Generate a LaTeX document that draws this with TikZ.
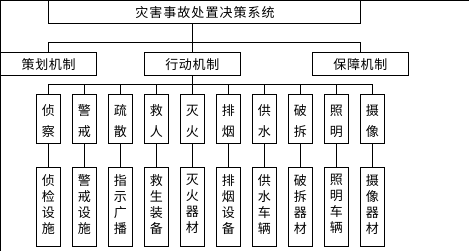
\documentclass[tikz,border=0pt]{standalone}
\usepackage{fontspec}
\newfontfamily\cjk{Noto Sans CJK SC}
\newfontfamily\cjkwide[LetterSpace=8]{Noto Sans CJK SC}
\newfontfamily\cjkmid[LetterSpace=5]{Noto Sans CJK SC}
\begin{document}
\begin{tikzpicture}[x=1pt,y=-1pt,line width=0.8pt,
  box/.style={draw,inner sep=0pt},
  lbl/.style={inner sep=0pt,align=center,font=\cjkmid\fontsize{13}{15}\selectfont},
  vshort/.style={inner sep=0pt,align=center,font=\cjk\fontsize{13}{21}\selectfont},
  vlong/.style={inner sep=0pt,align=center,font=\cjk\fontsize{13}{16}\selectfont}]
\useasboundingbox (0,0) rectangle (469,251);
% partial frame
\coordinate (fa) at (0,0.4);
\coordinate (fb) at (469,0.4);
\coordinate (fc) at (0.4,251);
\draw (fa) -- (fb);
\draw (fa -| fc) -- (fc);
% title
\node[box,minimum width=312.4pt,minimum height=23pt] (t) at (204.5,11.9) {};
\node[lbl,font=\cjkwide\fontsize{13}{15}\selectfont] (tl) at (205,12.6) {灾害事故处置决策系统};
% mechanisms
\node[box,minimum width=96.2pt,minimum height=23pt] (a) at (48.6,63.8) {};
\node[box,minimum width=95.7pt,minimum height=23pt] (b) at (192.3,63.8) {};
\node[box,minimum width=96pt,minimum height=23pt] (c) at (360.4,63.8) {};
\node[lbl] (al) at (48.6,64.6) {策划机制};
\node[lbl] (bl) at (192.3,64.6) {行动机制};
\node[lbl] (cl) at (360.4,64.6) {保障机制};
\coordinate (bus1) at (0,42.3);
\coordinate (bus2) at (0,84.3);
\draw (b.north) -- (b.north |- t.south);
\draw (a.north |- bus1) -- (c.north |- bus1);
\draw (a.north |- bus1) -- (a.north);
\draw (c.north |- bus1) -- (c.north);
% action columns
\foreach \i/\s/\l in {0/侦\\察/侦\\检\\设\\施,1/警\\戒/警\\戒\\设\\施,2/疏\\散/指\\示\\广\\播,3/救\\人/救\\生\\装\\备,4/灭\\火/灭\\火\\器\\材,5/排\\烟/排\\烟\\设\\备,6/供\\水/供\\水\\车\\辆,7/破\\拆/破\\拆\\器\\材,8/照\\明/照\\明\\车\\辆,9/摄\\像/摄\\像\\器\\材}{
  \pgfmathsetmacro{\cx}{48.3+36*\i}
  \node[box,minimum width=24pt,minimum height=49pt] (s\i) at (\cx,118.8) {};
  \node[box,minimum width=24pt,minimum height=78.6pt] (l\i) at (\cx,207.1) {};
  \node[vshort] (sl\i) at (\cx,121.4) {\s};
  \node[vlong] (ll\i) at (\cx,204.3) {\l};
  \draw (s\i.north) -- (s\i.north |- bus2);
  \draw (s\i.south) -- (l\i.north);
}
\draw (b.south) -- (b.south |- bus2);
\draw (s0.north |- bus2) -- (s9.north |- bus2);
\end{tikzpicture}
\end{document}
